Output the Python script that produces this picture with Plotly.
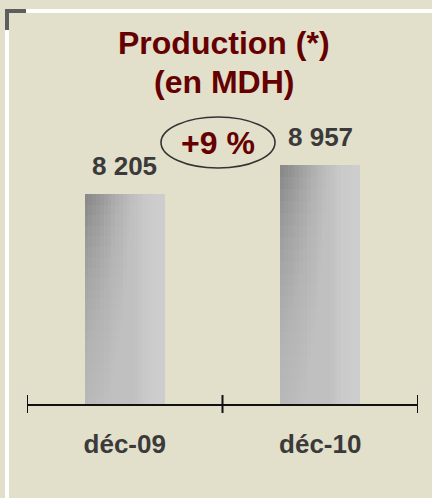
import plotly.graph_objects as go

# -- ---------------------------------------------------------------------------------------- DATA -- #

periods = ['déc-09', 'déc-10']
production = [8205, 8957]
title_lines = ['Production (*)', '(en MDH)']

# -- --------------------------------------------------------------------------------------- THEME -- #

base_theme = {'bg': '#E2DFCB', 'title': '#650000', 'text': '#3A3A3A', 'axis': '#111111',
              'font': 'Liberation Sans, Arial, sans-serif', 'width': 432, 'height': 498}

# gradient for the bars, dark grey on the left fading to light grey
bar_shades = ['#8A8A8A', '#8E8E8E', '#929292', '#969696', '#9B9B9B', '#A0A0A0', '#A5A5A5',
              '#AAAAAA', '#AFAFAF', '#B3B3B3', '#B7B7B7', '#BBBBBB', '#BFBFBF', '#C2C2C2',
              '#C5C5C5', '#C8C8C8', '#CACACA', '#CBCBCB', '#CCCCCC', '#CDCDCD', '#CDCDCD']

y_range = [2760, 10643]


def px(p_x, p_y, p_theme):
    """ pixel position -> paper coordinates (margins are zero) """
    return p_x / p_theme['width'], 1 - p_y / p_theme['height']


def g_gradient_bars(p_cats, p_vals, p_theme):
    """
    Two category bars with a grey gradient, values on top and growth in an ellipse
    """

    fig = go.Figure()

    bar_w = 0.41
    n = len(bar_shades)
    for i, shade in enumerate(bar_shades):
        # each slice starts further right and runs to the right edge of the bar
        fig.add_trace(go.Bar(x=p_cats, y=p_vals, marker_color=shade, marker_line_width=0,
                             width=bar_w - i * bar_w / n, offset=-bar_w / 2 + i * bar_w / n,
                             hoverinfo='skip', showlegend=False))

    # light veils from the bottom, so the lower left of the bar fades too
    m = 20
    for k in range(1, m):
        part = [y_range[0] + (v - y_range[0]) * k / m for v in p_vals]
        fig.add_trace(go.Bar(x=p_cats, y=part, marker_color='#CDCDCD', marker_line_width=0,
                             width=bar_w, opacity=0.07, hoverinfo='skip', showlegend=False))

    # values on top of bars
    annotations = []
    for cat, val in zip(p_cats, p_vals):
        annotations.append(dict(x=cat, y=val, xref='x', yref='y', yshift=28, showarrow=False,
                                xanchor='center', yanchor='middle',
                                text='<b>' + '{:,}'.format(val).replace(',', ' ') + '</b>',
                                font=dict(size=26, color=p_theme['text'])))

    # growth between the two periods
    growth = round((p_vals[1] / p_vals[0] - 1) * 100)
    gx, gy = px(218, 143, p_theme)
    annotations.append(dict(x=gx, y=gy, xref='paper', yref='paper', showarrow=False,
                            xanchor='center', yanchor='middle',
                            text='<b>+' + str(growth) + ' %</b>',
                            font=dict(size=32, color=p_theme['title'])))

    # title (two lines, wide spacing)
    for line, ypix in zip(title_lines, [43, 82]):
        tx, ty = px(224, ypix, p_theme)
        annotations.append(dict(x=tx, y=ty, xref='paper', yref='paper', showarrow=False,
                                xanchor='center', yanchor='middle',
                                text='<b>' + line + '</b>',
                                font=dict(size=32, color=p_theme['title'])))

    # shapes: ellipse, axis ticks and the frame
    ex0, ey0 = px(161, 168, p_theme)
    ex1, ey1 = px(275, 117, p_theme)
    shapes = [dict(type='circle', xref='paper', yref='paper', x0=ex0, y0=ey0, x1=ex1, y1=ey1,
                   line=dict(color='#333333', width=1.6))]

    _, t0 = px(0, 413, p_theme)
    _, t1 = px(0, 395, p_theme)
    for b in [i - 0.5 for i in range(len(p_cats) + 1)]:
        shapes.append(dict(type='line', xref='x', yref='paper', x0=b, x1=b, y0=t0, y1=t1,
                           line=dict(color=p_theme['axis'], width=2)))

    frame = [((26, 9), (432, 13), '#FFFFFF'), ((5, 30), (9, 498), '#FFFFFF'),
             ((5, 9), (26, 13), '#5E5E5E'), ((5, 9), (9, 30), '#5E5E5E')]
    for (x0, y0), (x1, y1), col in frame:
        a0, b0 = px(x0, y1, p_theme)
        a1, b1 = px(x1, y0, p_theme)
        shapes.append(dict(type='rect', xref='paper', yref='paper', x0=a0, y0=b0, x1=a1, y1=b1,
                           line_width=0, fillcolor=col, layer='below'))

    dx0, dy0 = px(27, 404, p_theme)
    dx1, dy1 = px(418, 100, p_theme)

    fig.update_layout(barmode='overlay', bargap=0,
                      width=p_theme['width'], height=p_theme['height'],
                      margin=dict(l=0, r=0, t=0, b=0, pad=0),
                      paper_bgcolor=p_theme['bg'], plot_bgcolor=p_theme['bg'],
                      font=dict(family=p_theme['font'], color=p_theme['text']),
                      annotations=annotations, shapes=shapes)

    fig.update_xaxes(domain=[dx0, dx1], range=[-0.5, len(p_cats) - 0.5], showline=True,
                     linecolor=p_theme['axis'], linewidth=2, ticks='', showgrid=False,
                     zeroline=False, tickvals=p_cats,
                     ticktext=['<b>' + c + '</b>' for c in p_cats],
                     tickfont=dict(size=26, color=p_theme['text']), ticklabelstandoff=16)

    fig.update_yaxes(domain=[dy0, dy1], range=y_range, visible=False, showgrid=False,
                     zeroline=False)

    return fig


fig = g_gradient_bars(periods, production, base_theme)
# page body has a default 8px margin, drop it so the figure sits at the window corner
fig.write_html("out.html", config={'displayModeBar': False},
               post_script="document.body.style.margin = '0';")
